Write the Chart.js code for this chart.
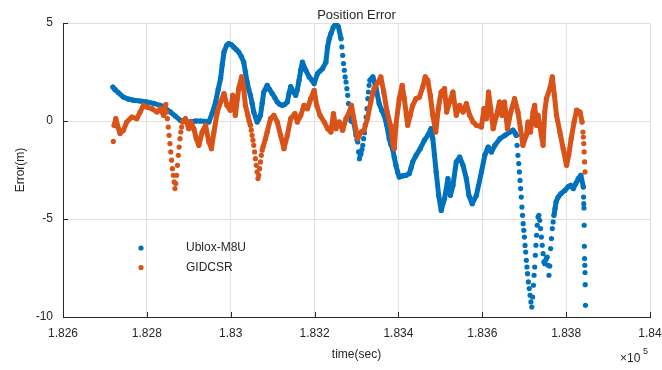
<!DOCTYPE html>
<html>
<head>
<meta charset="utf-8">
<title>Position Error</title>
<script src="https://cdn.jsdelivr.net/npm/chart.js@4.4.1/dist/chart.umd.min.js"></script>
<style>
  html, body { margin: 0; padding: 0; background: #fff; }
  #wrap { width: 662px; height: 370px; }
</style>
</head>
<body>
<div id="wrap"><canvas id="chart" width="662" height="370"></canvas></div>
<script>
// Data (time in sec, error in m)
// where the dots stand apart in the figure they were read one by one (1-2 s apart)
const ubloxTime = [
  182719, 182724, 182732, 182744, 182756, 182768, 182784, 182800, 182816, 182832,
  182844, 182856, 182868, 182880, 182892, 182904, 182916, 182928, 182940, 182948,
  182956, 182964, 182970, 182976, 182980, 182984, 182990, 182995, 183001, 183007,
  183013, 183019, 183025, 183031, 183035, 183039, 183043, 183047, 183051, 183055,
  183059, 183063, 183067, 183071, 183075, 183079, 183087, 183093, 183099, 183105,
  183111, 183117, 183123, 183129, 183135, 183139, 183143, 183149, 183155, 183159,
  183163, 183167, 183171, 183179, 183187, 183193, 183199, 183207, 183213, 183219,
  183227, 183231, 183235, 183239, 183245, 183251, 183257, 183263, 183265, 183267,
  183269, 183271, 183273, 183275, 183277, 183279, 183281, 183283, 183285, 183287,
  183291, 183295, 183299, 183301, 183303, 183305, 183307, 183309, 183311, 183313,
  183315, 183317, 183319, 183321, 183323, 183325, 183327, 183328.5, 183330, 183332,
  183335, 183339, 183347, 183354, 183360, 183366, 183372, 183378, 183382, 183386,
  183390, 183394, 183398, 183402, 183410, 183418, 183426, 183430, 183434, 183442,
  183452, 183462, 183470, 183478, 183482, 183486, 183490, 183496, 183502, 183510,
  183518, 183524, 183530, 183538, 183546, 183554, 183562, 183568, 183576, 183586,
  183598, 183606, 183614, 183622, 183630, 183642, 183654, 183666, 183673, 183678,
  183681, 183683, 183685, 183687, 183688.5, 183690, 183691.5, 183693, 183694.5, 183696,
  183697.5, 183699, 183700.5, 183702, 183703.5, 183705, 183706.5, 183708, 183710, 183712,
  183714, 183716, 183718, 183720, 183722, 183723.5, 183725, 183726.5, 183728, 183729.5,
  183731, 183733, 183735, 183737, 183739, 183741, 183743, 183745, 183747, 183749,
  183751, 183753, 183755, 183757, 183759, 183761, 183763, 183765, 183767, 183769,
  183771, 183773.5, 183776, 183781, 183788, 183797, 183805, 183811, 183817, 183823,
  183829, 183835, 183841, 183841.5, 183842, 183842.5, 183843, 183843.5, 183844, 183844.5,
  183845, 183845.5, 183846
];
const ubloxError = [
  1.73, 1.60, 1.45, 1.22, 1.12, 1.06, 1.02, 0.97, 0.90, 0.80,
  0.65, 0.46, 0.25, 0.03, -0.02, -0.05, 0.00, 0.00, -0.02, -0.05,
  0.40, 0.97, 1.60, 2.18, 2.90, 3.52, 3.85, 3.95, 3.90, 3.78,
  3.65, 3.52, 3.30, 3.00, 2.50, 2.00, 1.60, 1.31, 0.90, 0.46,
  0.20, -0.05, 0.10, 0.29, 0.90, 1.48, 1.82, 1.60, 1.40, 1.20,
  0.97, 0.85, 0.80, 0.85, 0.97, 1.40, 1.75, 1.50, 1.31, 1.60,
  2.08, 2.60, 3.00, 2.59, 2.25, 2.10, 1.91, 2.42, 2.55, 2.67,
  3.00, 3.78, 4.20, 4.46, 4.80, 4.97, 4.80, 4.20, 3.78, 3.35,
  2.93, 2.59, 2.25, 1.99, 1.65, 1.31, 0.89, 0.46, 0.20, 0.00,
  0.10, -0.22, -0.73, -0.95, -1.07, -1.58, -1.92, -1.75, -1.66, -1.45,
  -1.24, -0.90, -0.60, -0.20, 0.20, 0.63, 1.14, 1.48, 1.82, 2.08,
  2.15, 2.25, 1.65, 0.89, 0.55, 0.29, -0.20, -0.90, -1.20, -1.41,
  -1.85, -2.26, -2.60, -2.86, -2.80, -2.77, -2.68, -2.40, -2.09, -1.75,
  -1.41, -0.98, -0.73, -0.39, -0.90, -1.75, -2.60, -3.79, -4.56, -3.96,
  -2.94, -3.79, -3.28, -2.09, -1.84, -2.26, -2.94, -3.79, -4.22, -3.79,
  -2.60, -1.75, -1.33, -1.58, -1.24, -0.90, -0.73, -0.56, -0.47, -0.60,
  -0.73, -1.24, -1.75, -2.17, -2.60, -3.03, -3.45, -3.88, -4.39, -4.81,
  -5.24, -5.58, -5.92, -6.35, -6.69, -7.11, -7.45, -7.79, -8.21, -8.55,
  -8.89, -9.23, -9.49, -8.98, -8.38, -7.87, -7.45, -6.85, -6.34, -5.83,
  -5.32, -4.90, -4.81, -5.07, -5.49, -5.92, -6.34, -6.77, -7.19, -7.28,
  -7.11, -7.00, -6.94, -7.36, -7.87, -7.40, -6.51, -6.00, -5.49, -5.15,
  -4.81, -4.47, -4.13, -3.88, -3.70, -3.54, -3.35, -3.28, -3.45, -3.19,
  -2.94, -2.77, -3.37, -3.88, -4.22, -4.44, -5.32, -6.39, -7.02, -7.36,
  -7.73, -8.35, -9.40
];

const gidTime = [
  182720, 182722, 182726, 182731, 182736, 182744, 182752, 182764, 182776, 182784,
  182792, 182800, 182812, 182824, 182832, 182840, 182845, 182847, 182849, 182851,
  182853, 182855, 182857, 182859, 182861, 182863, 182865, 182867, 182869, 182871,
  182873, 182875, 182877, 182879, 182881, 182883, 182885, 182892, 182900, 182905,
  182912, 182918, 182924, 182932, 182940, 182948, 182954, 182960, 182968, 182976,
  182984, 182991, 182999, 183005, 183011, 183019, 183026, 183031, 183035, 183041,
  183044, 183047, 183049, 183051, 183053, 183055, 183057, 183059, 183061, 183063,
  183065, 183067, 183069, 183071, 183073, 183075, 183077, 183083, 183087, 183095,
  183103, 183111, 183119, 183127, 183135, 183143, 183153, 183159, 183167, 183175,
  183183, 183191, 183199, 183205, 183213, 183223, 183231, 183239, 183245, 183251,
  183259, 183267, 183275, 183283, 183288, 183295, 183303, 183311, 183318, 183326,
  183334, 183342, 183352, 183358, 183365, 183373, 183381, 183386, 183390, 183394,
  183402, 183409, 183414, 183422, 183428, 183434, 183442, 183450, 183458, 183464,
  183470, 183476, 183482, 183489, 183495, 183502, 183510, 183515, 183522, 183530,
  183538, 183546, 183554, 183562, 183570, 183578, 183586, 183598, 183604, 183610,
  183615, 183620, 183626, 183634, 183641, 183647, 183653, 183660, 183668, 183677,
  183685, 183691, 183697, 183705, 183709, 183715, 183721, 183725, 183729, 183733,
  183741, 183745, 183749, 183753, 183761, 183767, 183772, 183777, 183785, 183793,
  183801, 183806, 183812, 183819, 183825, 183833, 183838, 183840, 183841, 183842,
  183843, 183844, 183845
];
const gidError = [
  -1.04, -0.22, 0.12, -0.30, -0.64, -0.47, -0.05, 0.20, 0.12, 0.46,
  0.80, 0.71, 0.63, 0.46, 0.63, 0.29, 0.84, 0.46, 0.12, -0.31,
  -0.73, -1.15, -1.58, -2.00, -2.43, -2.77, -3.11, -3.45, -3.19, -2.77,
  -2.26, -1.75, -1.33, -0.90, -0.56, -0.31, -0.05, 0.12, -0.39, -0.05,
  -0.39, -0.90, -1.24, -0.56, -0.22, -1.07, -1.41, -0.56, 0.46, 0.97,
  1.40, 0.80, 0.55, 1.31, 0.29, 1.65, 2.25, 1.65, 0.80, 0.29,
  0.00, -0.22, -0.47, -0.73, -0.98, -1.24, -1.58, -1.92, -2.26, -2.60,
  -2.94, -2.77, -2.43, -2.09, -1.75, -1.49, -1.33, -0.90, -0.56, 0.12,
  0.29, -0.05, -0.73, -1.41, -0.73, 0.12, 0.38, -0.05, 0.29, 0.80,
  0.63, 1.14, 1.57, 0.80, 0.29, -0.05, -0.39, -0.56, 0.38, -0.39,
  -0.05, -0.47, 0.12, 0.46, 0.80, -0.05, -0.90, -0.56, -0.47, 0.12,
  0.97, 1.65, 2.00, 2.25, 1.48, 0.46, -0.22, -1.07, -1.41, -0.22,
  1.14, 1.82, 1.14, -0.22, 0.29, 0.80, 1.14, 1.22, 1.73, 2.25,
  2.08, 1.31, 0.29, -0.56, 0.63, 1.48, 1.65, 0.46, 0.97, 1.48,
  0.29, 0.80, 0.46, 0.89, 0.29, -0.05, -0.22, -0.30, 0.63, 0.12,
  1.48, 0.63, -0.39, 0.29, 0.97, 0.29, 0.97, -0.39, 0.46, 1.14,
  0.46, -0.39, -1.24, -0.73, -0.05, -0.56, 0.46, 0.80, -0.22, 0.29,
  -0.73, -1.24, 0.46, 1.14, 1.65, 2.25, 1.31, 0.29, -0.56, -1.41,
  -2.26, -1.75, -0.90, -0.05, 0.55, 0.46, -0.05, -0.56, -0.82, -1.15,
  -1.58, -2.09, -2.60
];

const seriesNames = ['Ublox-M8U', 'GIDCSR'];
const xTicks = [182600, 182800, 183000, 183200, 183400, 183600, 183800, 184000];
const xTickLabels = ['1.826', '1.828', '1.83', '1.832', '1.834', '1.836', '1.838', '1.84'];
const yTicks = [-10, -5, 0, 5];

const BLUE = '#0072BD';
const ORANGE = '#D95319';
const INK = '#262626';
const GRID = '#e1e1e1';
const FONT = 'Arial, "Liberation Sans", Helvetica, sans-serif';

function toPoints(times, values) {
    return times.map((t, i) => ({ x: t, y: values[i] }));
}

// the dense runs of dots are joined by a thick stroke; where readings were
// taken dot by dot (less than 2.5 s apart) only the dots are shown
function joinColor(color) {
    return c => (c.p1.parsed.x - c.p0.parsed.x < 2.5 ? 'rgba(0,0,0,0)' : color);
}

function series(name, times, values, color, order) {
    return {
        label: name,
        data: toPoints(times, values),
        showLine: true,
        borderColor: color,
        borderWidth: 5,
        borderCapStyle: 'round',
        borderJoinStyle: 'round',
        segment: { borderColor: joinColor(color) },
        backgroundColor: color,
        pointBorderWidth: 0,
        pointRadius: 2.6,
        order: order
    };
}

// title over the axes, inward ticks, exponent and the legend inside the axes
const extras = {
    id: 'extras',
    afterDraw(chart) {
        const { ctx, chartArea: a, scales } = chart;
        ctx.save();
        ctx.fillStyle = INK;
        ctx.textAlign = 'center';
        ctx.textBaseline = 'middle';
        ctx.font = '13px ' + FONT;
        ctx.fillText('Position Error', (a.left + a.right) / 2, 15);

        ctx.strokeStyle = INK;
        ctx.lineWidth = 1;
        xTicks.forEach(t => {
            const px = Math.round(scales.x.getPixelForValue(t)) + 0.5;
            ctx.beginPath();
            ctx.moveTo(px, a.bottom);
            ctx.lineTo(px, a.bottom - 5);
            ctx.stroke();
        });
        yTicks.forEach(v => {
            const py = Math.round(scales.y.getPixelForValue(v)) + 0.5;
            ctx.beginPath();
            ctx.moveTo(a.left, py);
            ctx.lineTo(a.left + 5, py);
            ctx.stroke();
        });

        // x10^5 multiplier
        ctx.textAlign = 'left';
        ctx.font = '12px ' + FONT;
        ctx.fillText('\u00d710', a.right - 30, a.bottom + 42);
        ctx.font = '9px ' + FONT;
        ctx.fillText('5', a.right - 7, a.bottom + 35);

        // legend
        const colors = [BLUE, ORANGE];
        seriesNames.forEach((name, i) => {
            const y = a.top + 225 + i * 19.6;
            ctx.fillStyle = colors[i];
            ctx.beginPath();
            ctx.arc(a.left + 78, y, 2.6, 0, Math.PI * 2);
            ctx.fill();
            ctx.fillStyle = INK;
            ctx.font = '12px ' + FONT;
            ctx.fillText(name, a.left + 123, y);
        });
        ctx.restore();
    }
};

const ctx = document.getElementById('chart').getContext('2d');
new Chart(ctx, {
    type: 'scatter',
    data: {
        datasets: [
            series(seriesNames[0], ubloxTime, ubloxError, BLUE, 2),
            series(seriesNames[1], gidTime, gidError, ORANGE, 1)
        ]
    },
    options: {
        responsive: false,
        animation: false,
        devicePixelRatio: 1,
        layout: { padding: { left: 0, right: 12, top: 23, bottom: 0 } },
        plugins: {
            legend: { display: false },
            tooltip: { enabled: false },
            title: { display: false }
        },
        scales: {
            x: {
                type: 'linear',
                min: xTicks[0],
                max: xTicks[xTicks.length - 1],
                afterBuildTicks: scale => { scale.ticks = xTicks.map(v => ({ value: v })); },
                afterFit: scale => {
                    scale.height = 53;
                    scale.paddingLeft = 0;
                    scale.paddingRight = 0;
                },
                grid: { color: GRID, drawTicks: false },
                border: { display: true, color: INK, width: 1 },
                ticks: {
                    color: INK,
                    padding: 9,
                    maxRotation: 0,
                    font: { family: FONT, size: 12 },
                    callback: (v, i) => xTickLabels[i]
                },
                title: {
                    display: true,
                    text: 'time(sec)',
                    color: INK,
                    font: { family: FONT, size: 12 },
                    padding: { top: 0, bottom: 8 }
                }
            },
            y: {
                min: yTicks[0],
                max: yTicks[yTicks.length - 1],
                afterFit: scale => { scale.width = 63; },
                grid: { color: GRID, drawTicks: false },
                border: { display: true, color: INK, width: 1 },
                ticks: {
                    color: INK,
                    padding: 10,
                    stepSize: 5,
                    font: { family: FONT, size: 12 }
                },
                title: {
                    display: true,
                    text: 'Error(m)',
                    color: INK,
                    font: { family: FONT, size: 12 },
                    padding: { top: 13, bottom: 0 }
                }
            }
        }
    },
    plugins: [extras]
});
</script>
</body>
</html>
